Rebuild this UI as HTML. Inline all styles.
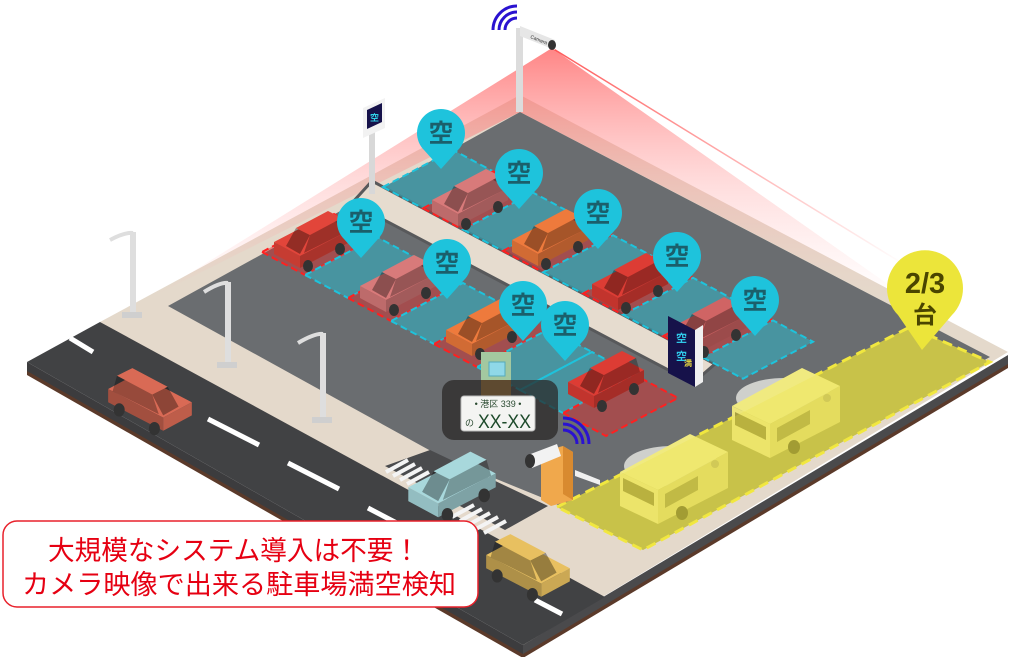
<!DOCTYPE html>
<html><head><meta charset="utf-8"><style>
html,body{margin:0;padding:0;background:#fff;width:1024px;height:657px;overflow:hidden}
svg{display:block}
</style></head><body>
<svg width="1024" height="657" viewBox="0 0 1024 657" xmlns="http://www.w3.org/2000/svg">
<defs>
<linearGradient id="pink" x1="0" y1="48" x2="0" y2="300" gradientUnits="userSpaceOnUse">
<stop offset="0" stop-color="#ff5050" stop-opacity="0.7"/>
<stop offset="0.55" stop-color="#ff9090" stop-opacity="0.3"/>
<stop offset="1" stop-color="#ffb0b0" stop-opacity="0"/>
</linearGradient>
<linearGradient id="pl" x1="552" y1="48" x2="905" y2="265" gradientUnits="userSpaceOnUse">
<stop offset="0" stop-color="#ff3030" stop-opacity="0.8"/>
<stop offset="1" stop-color="#ff3030" stop-opacity="0"/>
</linearGradient>
<g id="car">
<polygon points="-38,2 12,-24 38,-10 -12,16" fill="currentColor"/>
<polygon points="-38,2 -12,16 -12,28 -38,14" fill="currentColor"/>
<polygon points="-38,2 -12,16 -12,28 -38,14" fill="#000" opacity="0.12"/>
<polygon points="-12,16 38,-10 38,2 -12,28" fill="currentColor"/>
<polygon points="-12,16 38,-10 38,2 -12,28" fill="#000" opacity="0.25"/>
<polygon points="-26,6 -16,-12 -2,-5 -12,14" fill="#000" opacity="0.35"/>
<polygon points="-16,-12 16,-29 30,-22 -2,-5" fill="currentColor"/>
<polygon points="-2,-5 30,-22 34,-8 -8,13" fill="#000" opacity="0.3"/>
<ellipse cx="-4" cy="26" rx="5" ry="6" fill="#333"/>
<ellipse cx="28" cy="9" rx="5" ry="6" fill="#333"/>
</g>
<g id="bus">
<polygon points="0,0 70,-38 108,-20 38,18" fill="#f0ea80"/>
<polygon points="0,0 38,18 38,52 0,34" fill="#ece57a"/>
<polygon points="3,6 34,21 34,34 3,19" fill="#a8a040"/>
<polygon points="38,18 108,-20 108,16 38,52" fill="#e2da6a"/>
<polygon points="45,22 78,4 78,18 45,36" fill="#a8a040" opacity="0.8"/>
<ellipse cx="62" cy="41" rx="6" ry="7" fill="#8a8530"/>
<circle cx="95" cy="-8" r="4" fill="#c8c060"/>
</g>
<path id="pin" d="M-17,17 A24,24 0 1 1 17,17 L0,36 Z"/>
</defs>

<polygon points="27,362 523,645 523,657 27,374" fill="#3c3c3e"/>
<polygon points="27,371 523,654 523,658 27,375" fill="#5b3a2a"/>
<polygon points="523,645 1008,355 1008,367 523,657" fill="#4a4a4c"/>
<polygon points="523,654 1008,364 1008,368 523,658" fill="#5b3a2a"/>

<polygon points="100,322 520,95 1008,352 523,645" fill="#e4d9cb"/>
<polygon points="168,306 520,112 990,357 642,548 548,500 440,456" fill="#6a6d70"/>
<polygon points="27,362 100,322 605,597 523,645" fill="#414244"/>
<polygon points="430,450 548,506 505,530 385,466" fill="#4a4b4d"/>

<polygon points="552,48 150,298 520,112 990,356" fill="url(#pink)"/>
<line x1="552" y1="48" x2="905" y2="265" stroke="url(#pl)" stroke-width="1.5"/>

<g stroke="#fff" stroke-width="5">
<line x1="70" y1="338" x2="93" y2="352"/>
<line x1="208" y1="419" x2="259" y2="445"/>
<line x1="288" y1="463" x2="339" y2="489"/>
<line x1="368" y1="508" x2="410" y2="530"/>
<line x1="535" y1="600" x2="562" y2="614"/>
</g>
<g stroke="#f4f4f4" stroke-width="4">
<line x1="386" y1="472" x2="408" y2="460"/><line x1="393" y1="476" x2="415" y2="464"/>
<line x1="400" y1="480" x2="422" y2="468"/><line x1="407" y1="484" x2="429" y2="472"/>
<line x1="452" y1="517" x2="474" y2="505"/><line x1="460" y1="521" x2="482" y2="509"/>
<line x1="468" y1="525" x2="490" y2="513"/><line x1="476" y1="529" x2="498" y2="517"/>
<line x1="484" y1="533" x2="506" y2="521"/>
</g>

<polygon points="372,181 715,364 693,383 352,203" fill="#e6dccf" stroke="#58595b" stroke-width="3"/>

<g stroke-width="2" stroke-dasharray="7,4">
<polygon points="383,187 423,208.3 493,171.3 453,150" fill="rgba(30,195,220,0.45)" stroke="#1ec3dc"/>
<polygon points="423,208.3 463,229.6 533,192.6 493,171.3" fill="rgba(230,40,40,0.45)" stroke="#ff2020"/>
<polygon points="463,229.6 503,250.9 573,213.9 533,192.6" fill="rgba(30,195,220,0.45)" stroke="#1ec3dc"/>
<polygon points="503,250.9 543,272.2 613,235.2 573,213.9" fill="rgba(230,40,40,0.45)" stroke="#ff2020"/>
<polygon points="543,272.2 583,293.5 653,256.5 613,235.2" fill="rgba(30,195,220,0.45)" stroke="#1ec3dc"/>
<polygon points="583,293.5 623,314.8 693,277.8 653,256.5" fill="rgba(230,40,40,0.45)" stroke="#ff2020"/>
<polygon points="623,314.8 663,336.1 733,299.1 693,277.8" fill="rgba(30,195,220,0.45)" stroke="#1ec3dc"/>
<polygon points="663,336.1 703,357.4 773,320.4 733,299.1" fill="rgba(230,40,40,0.45)" stroke="#ff2020"/>
<polygon points="703,357.4 743,378.7 813,341.7 773,320.4" fill="rgba(30,195,220,0.45)" stroke="#1ec3dc"/>
<polygon points="262,252 305,275 377,237 334,214" fill="rgba(230,40,40,0.45)" stroke="#ff2020"/>
<polygon points="305,275 348,298 420,260 377,237" fill="rgba(30,195,220,0.45)" stroke="#1ec3dc"/>
<polygon points="348,298 391,321 463,283 420,260" fill="rgba(230,40,40,0.45)" stroke="#ff2020"/>
<polygon points="391,321 434,344 506,306 463,283" fill="rgba(30,195,220,0.45)" stroke="#1ec3dc"/>
<polygon points="434,344 477,367 549,329 506,306" fill="rgba(230,40,40,0.45)" stroke="#ff2020"/>
<polygon points="477,367 520,390 592,352 549,329" fill="rgba(30,195,220,0.45)" stroke="#1ec3dc"/>
<polygon points="520,390 563,413 635,375 592,352" fill="rgba(30,195,220,0.45)" stroke="#1ec3dc"/>
<polygon points="563,413 606,436 678,398 635,375" fill="rgba(230,40,40,0.45)" stroke="#ff2020"/>
</g>

<use href="#car" x="470" y="198" color="#d87a7a"/>
<use href="#car" x="550" y="238" color="#ee7a3c"/>
<use href="#car" x="630" y="282" color="#dd3c34"/>
<use href="#car" x="708" y="326" color="#d06464"/>
<use href="#car" x="312" y="240" color="#e2453a"/>
<use href="#car" x="398" y="284" color="#d87a7a"/>
<use href="#car" x="484" y="328" color="#ee7a3c"/>
<use href="#car" x="606" y="380" color="#dd3c34"/>

<polygon points="557,507 910,327 990,362 643,550" fill="#bdb74e" stroke="#f2e840" stroke-width="3" stroke-dasharray="10,6"/>
<ellipse cx="672" cy="466" rx="48" ry="20" fill="#e8e8e4" opacity="0.8"/>
<ellipse cx="784" cy="398" rx="48" ry="20" fill="#e8e8e4" opacity="0.8"/>
<use href="#bus" x="620" y="472"/>
<use href="#bus" x="732" y="406"/>
<polygon points="557,507 910,327 990,362 643,550" fill="rgba(235,228,60,0.25)"/>

<g fill="#dedede" stroke="none">
<rect x="130" y="232" width="6" height="84"/><rect x="122" y="312" width="20" height="6" fill="#cfcfcf"/>
<path d="M133,233 Q125,232 110,240" stroke="#dedede" stroke-width="4" fill="none"/>
<rect x="225" y="282" width="6" height="84"/><rect x="217" y="362" width="20" height="6" fill="#cfcfcf"/>
<path d="M228,283 Q220,282 204,292" stroke="#dedede" stroke-width="4" fill="none"/>
<rect x="320" y="333" width="6" height="88"/><rect x="312" y="417" width="20" height="6" fill="#cfcfcf"/>
<path d="M323,334 Q315,333 298,343" stroke="#dedede" stroke-width="4" fill="none"/>
</g>

<rect x="369" y="118" width="6" height="76" fill="#d8d8d8"/>
<polygon points="363,108 385,98 385,128 363,138" fill="#f2f2f2"/>
<polygon points="367,110 382,103 382,122 367,129" fill="#16124a"/>
<text x="374.5" y="121" font-family="Liberation Sans,'Noto Sans CJK JP',sans-serif" font-size="9" fill="#30d0e8" text-anchor="middle" font-weight="bold">空</text>

<rect x="516" y="28" width="7" height="84" fill="#dcdcdc"/>
<polygon points="520,26 555,40 555,50 520,36" fill="#e6e6e6"/>
<text x="530" y="38" font-size="5" fill="#333" font-family="Liberation Sans,sans-serif" transform="rotate(22 530 38)">Camera</text>
<ellipse cx="552" cy="45" rx="4" ry="5" fill="#333"/>
<g fill="none" stroke="#2a12d0" stroke-width="3">
<path d="M505,30 A12,12 0 0 1 517,18"/>
<path d="M499,30 A18,18 0 0 1 517,12"/>
<path d="M493,30 A24,24 0 0 1 517,6"/>
</g>

<polygon points="668,316 695,330 695,387 668,373" fill="#16124a"/>
<polygon points="695,330 703,325 703,382 695,387" fill="#f0f0f0"/>
<text x="676" y="342" font-family="Liberation Sans,'Noto Sans CJK JP',sans-serif" font-size="11" fill="#30c8e8" font-weight="bold">空</text>
<text x="676" y="360" font-family="Liberation Sans,'Noto Sans CJK JP',sans-serif" font-size="11" fill="#30c8e8" font-weight="bold">空</text>
<text x="684" y="366" font-family="Liberation Sans,'Noto Sans CJK JP',sans-serif" font-size="8" fill="#e8d840" font-weight="bold">満</text>

<rect x="481" y="352" width="30" height="42" fill="#a3c8a0"/>
<rect x="489" y="362" width="16" height="14" fill="#8fd8e8" stroke="#5ab" stroke-width="1"/>
<rect x="481" y="380" width="30" height="20" fill="#e9a850"/>

<g transform="translate(150,400) scale(-1.1,1.1)"><use href="#car" color="#d96a55"/></g>
<g transform="translate(452,485) scale(1.15)"><use href="#car" color="#a8d8dc"/></g>
<g transform="translate(528,566) scale(-1.1,1.1)"><use href="#car" color="#e8c060"/></g>

<polygon points="541,452 563,446 573,452 573,500 551,506 541,500" fill="#f0a84c"/>
<polygon points="563,446 573,452 573,500 563,494" fill="#d88a30"/>
<polygon points="575,470 600,480 600,485 575,476" fill="#f0f0f0"/>
<polygon points="528,455 557,444 561,456 532,468" fill="#f2f2f2"/>
<ellipse cx="530" cy="461" rx="5" ry="7" fill="#333"/>
<g fill="none" stroke="#2a12d0" stroke-width="3">
<path d="M563,430 A14,14 0 0 1 577,444"/>
<path d="M563,424 A20,20 0 0 1 583,444"/>
<path d="M563,418 A26,26 0 0 1 589,444"/>
</g>

<rect x="442" y="380" width="116" height="60" rx="12" fill="rgba(40,38,36,0.72)"/>
<rect x="461" y="396" width="74" height="35" rx="3" fill="#f4f4f2" stroke="#bbb"/>
<text x="498" y="407" font-family="Liberation Sans,'Noto Sans CJK JP',sans-serif" font-size="9" fill="#2a4a30" text-anchor="middle">• 港区 339 •</text>
<text x="465" y="426" font-family="Liberation Sans,'Noto Sans CJK JP',sans-serif" font-size="9" fill="#2a4a30">の</text>
<text x="478" y="428" font-family="Liberation Sans,sans-serif" font-size="19" fill="#1d4a2a" textLength="53" lengthAdjust="spacingAndGlyphs">XX-XX</text>

<g fill="#1ec3dc">
<use href="#pin" x="441" y="133"/><use href="#pin" x="519" y="173"/><use href="#pin" x="598" y="213"/>
<use href="#pin" x="677" y="256"/><use href="#pin" x="755" y="300"/>
<use href="#pin" x="361" y="222"/><use href="#pin" x="447" y="263"/>
<use href="#pin" x="523" y="305"/><use href="#pin" x="565" y="325"/>
</g>
<g font-family="Liberation Sans,'Noto Sans CJK JP',sans-serif" font-size="25" font-weight="bold" fill="#1b5f6b" text-anchor="middle">
<text x="441" y="142">空</text><text x="519" y="182">空</text><text x="598" y="222">空</text>
<text x="677" y="265">空</text><text x="755" y="309">空</text>
<text x="361" y="231">空</text><text x="447" y="272">空</text>
<text x="523" y="314">空</text><text x="565" y="334">空</text>
</g>

<path d="M898,315 A38,38 0 1 1 952,315 L922,350 Z" fill="#ece53a"/>
<text x="925" y="293" font-family="Liberation Sans,sans-serif" font-size="29" font-weight="bold" fill="#4a4500" text-anchor="middle">2/3</text>
<text x="925" y="323" font-family="Liberation Sans,'Noto Sans CJK JP',sans-serif" font-size="24" font-weight="bold" fill="#4a4500" text-anchor="middle">台</text>

<rect x="3" y="521" width="475" height="86" rx="14" fill="#fff" stroke="#e8212b" stroke-width="1.5"/>
<text x="48" y="560" font-family="Liberation Sans,'Noto Sans CJK JP',sans-serif" font-size="27" fill="#e60012" textLength="372" lengthAdjust="spacingAndGlyphs">大規模なシステム導入は不要！</text>
<text x="22" y="594" font-family="Liberation Sans,'Noto Sans CJK JP',sans-serif" font-size="27" fill="#e60012" textLength="434" lengthAdjust="spacingAndGlyphs">カメラ映像で出来る駐車場満空検知</text>
</svg>
</body></html>
